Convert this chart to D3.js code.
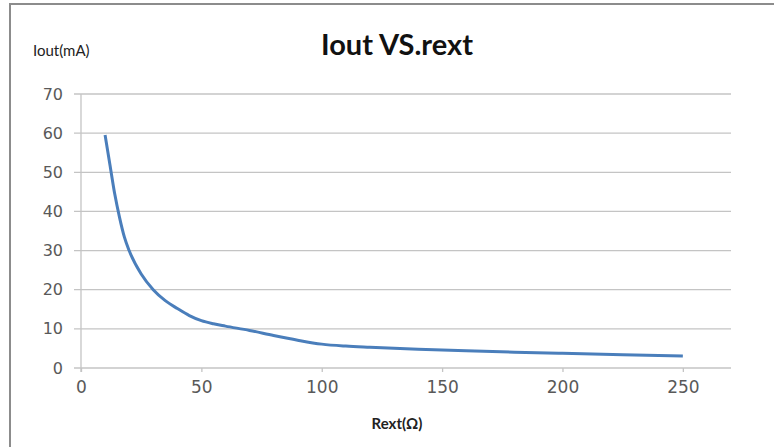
<!DOCTYPE html>
<html>
<head>
<meta charset="utf-8">
<script src="https://cdn.jsdelivr.net/npm/d3@7"></script>
<style>
  html, body { margin: 0; padding: 0; background: #fff; }
  svg { display: block; }
</style>
</head>
<body>
<svg id="chart" width="774" height="447"></svg>
<script>
// values
const rext = [10, 12, 14, 16, 18, 20, 25, 30, 35, 40, 45, 50, 55, 60, 70, 80, 90, 100, 110, 120, 140, 160, 180, 200, 225, 250];
const iout = [59.5, 52, 44.5, 38.5, 33.5, 30, 24, 20, 17.2, 15.2, 13.4, 12.1, 11.3, 10.7, 9.6, 8.3, 7.1, 6.1, 5.6, 5.3, 4.8, 4.4, 4.05, 3.75, 3.4, 3.07];
const xTicks = [0, 50, 100, 150, 200, 250];
const yTicks = [0, 10, 20, 30, 40, 50, 60, 70];

const svg = d3.select('#chart');
const width = 774;
const height = 447;

// outer frame (right and bottom edges fall outside the picture)
svg.append('rect')
  .attr('x', 10)
  .attr('y', 4)
  .attr('width', width + 20)
  .attr('height', height + 20)
  .attr('fill', '#fff')
  .attr('stroke', '#8c8c8c')
  .attr('stroke-width', 2);

const x = d3.scaleLinear().domain([0, 270]).range([81, 731]);
const y = d3.scaleLinear().domain([0, 70]).range([368, 94]);

// gridlines
svg.append('g')
  .attr('class', 'grid')
  .selectAll('line')
  .data(yTicks)
  .join('line')
  .attr('x1', x(0) - 7)
  .attr('x2', x.range()[1])
  .attr('y1', d => y(d))
  .attr('y2', d => y(d))
  .attr('stroke', '#c4c4c4')
  .attr('stroke-width', 1.3);

// y axis
const yAxis = svg.append('g')
  .attr('transform', `translate(${x(0)},0)`)
  .call(d3.axisLeft(y).tickValues(yTicks).tickSize(0).tickPadding(18));
yAxis.select('.domain').attr('stroke', '#c4c4c4').attr('stroke-width', 1.3)
  .attr('d', `M0,${y(70)}V${y(0) + 4}`);
yAxis.selectAll('text')
  .attr('fill', '#595959')
  .style('font', '16px "DejaVu Sans"');

// x axis
const xAxis = svg.append('g')
  .attr('transform', `translate(0,${y(0)})`)
  .call(d3.axisBottom(x).tickValues(xTicks).tickSize(4).tickPadding(9));
xAxis.select('.domain').remove();
xAxis.selectAll('line').attr('stroke', '#c4c4c4').attr('stroke-width', 1.3);
xAxis.selectAll('text')
  .attr('fill', '#595959')
  .style('font', '17px "DejaVu Sans"');

// curve
const points = rext.map((r, i) => [r, iout[i]]);
const line = d3.line()
  .x(d => x(d[0]))
  .y(d => y(d[1]))
  .curve(d3.curveMonotoneX);
svg.append('path')
  .datum(points)
  .attr('d', line)
  .attr('fill', 'none')
  .attr('stroke', '#4a7ebb')
  .attr('stroke-width', 3);

// title and axis labels
svg.append('text')
  .attr('x', 397)
  .attr('y', 55)
  .attr('text-anchor', 'middle')
  .style('font', 'bold 29px Lato')
  .attr('fill', '#111')
  .text('Iout VS.rext');

svg.append('text')
  .attr('x', 33)
  .attr('y', 56)
  .style('font', '15px Lato')
  .attr('fill', '#222')
  .text('Iout(mA)');

svg.append('text')
  .attr('x', 397)
  .attr('y', 429)
  .attr('text-anchor', 'middle')
  .style('font', 'bold 15px Lato')
  .attr('fill', '#222')
  .text('Rext(Ω)');
</script>
</body>
</html>
